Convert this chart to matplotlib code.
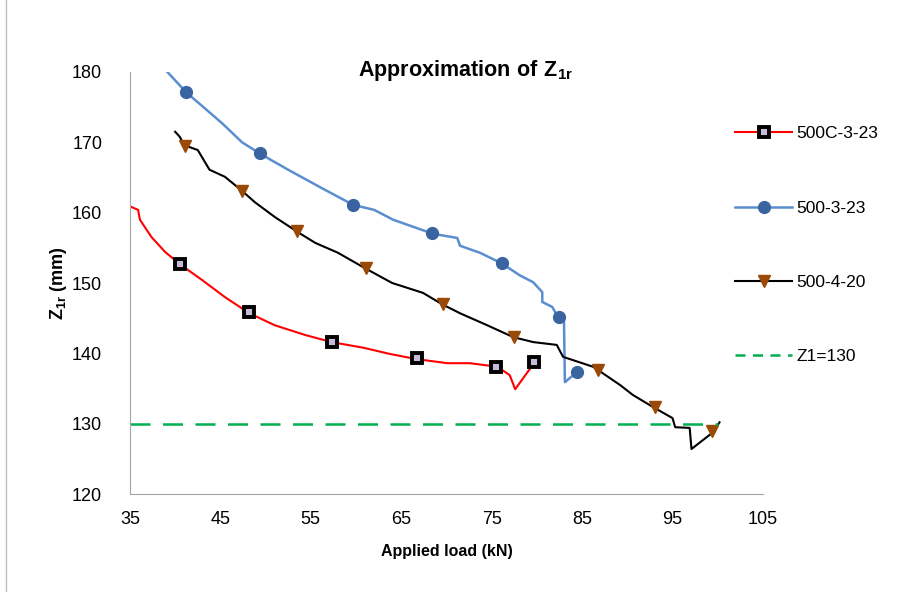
import matplotlib as mpl
import matplotlib.pyplot as plt
from matplotlib.lines import Line2D
mpl.use('Agg')

plt.rcParams['font.family'] = ['Liberation Sans', 'DejaVu Sans']
plt.rcParams['mathtext.fontset'] = 'custom'
plt.rcParams['mathtext.rm'] = 'Liberation Sans'
plt.rcParams['mathtext.bf'] = 'Liberation Sans:bold'

# 500C-3-23 (red line, square markers)
load_c323 = [35.0, 35.9, 36.1, 37.4, 38.9, 40.5, 43.0, 45.5, 48.2, 51.0, 54.4, 57.3,
             60.8, 63.8, 66.6, 70.1, 72.6, 75.6, 76.2, 77.0, 77.6, 79.8]
z_c323 = [160.9, 160.4, 159.0, 156.5, 154.4, 152.7, 150.4, 148.0, 145.7, 144.0, 142.6, 141.6,
          140.8, 139.9, 139.2, 138.6, 138.6, 138.1, 137.6, 136.9, 134.9, 138.8]
mk_load_c323 = [40.5, 48.2, 57.3, 66.7, 75.5, 79.7]
mk_z_c323 = [152.7, 145.9, 141.6, 139.3, 138.1, 138.8]

# 500-3-23 (blue line, circle markers)
load_323 = [39.0, 41.3, 42.5, 45.2, 47.4, 49.5, 52.5, 56.2, 59.7, 62.0, 64.1, 68.5,
            71.2, 71.5, 73.7, 76.1, 78.1, 79.6, 80.6, 80.6, 81.7, 82.4, 83.0, 83.1, 84.4]
z_323 = [180.2, 177.0, 175.7, 172.7, 170.0, 168.3, 166.1, 163.5, 161.1, 160.4, 159.0, 157.0,
         156.4, 155.3, 154.3, 152.8, 151.1, 150.1, 148.7, 147.3, 146.6, 145.0, 144.5, 135.9, 137.3]
mk_load_323 = [41.2, 49.4, 59.7, 68.4, 76.1, 82.4, 84.4]
mk_z_323 = [177.2, 168.5, 161.1, 157.1, 152.8, 145.2, 137.3]

# 500-4-20 (black line, triangle markers)
load_420 = [40.0, 40.5, 41.0, 42.5, 43.8, 45.5, 47.4, 48.8, 51.0, 53.6, 55.5, 58.0,
            61.0, 64.0, 67.4, 69.5, 71.5, 74.5, 77.4, 79.6, 82.2, 82.9, 86.2, 86.8,
            89.2, 90.6, 92.8, 95.0, 95.3, 96.9, 97.1, 99.5, 100.2]
z_420 = [171.5, 170.8, 169.6, 168.9, 166.1, 165.1, 163.1, 161.5, 159.4, 157.2, 155.7, 154.3,
         152.1, 150.0, 148.6, 147.0, 145.7, 144.0, 142.3, 141.6, 141.2, 139.5, 138.1, 137.6,
         135.5, 134.1, 132.4, 130.8, 129.5, 129.4, 126.4, 128.8, 130.2]
mk_load_420 = [41.1, 47.4, 53.5, 61.1, 69.6, 77.5, 86.8, 93.1, 99.4]
mk_z_420 = [169.5, 163.1, 157.4, 152.1, 147.0, 142.3, 137.6, 132.4, 129.0]

z1_load = [35, 100]
z1_value = [130, 130]

x_ticks = [35, 45, 55, 65, 75, 85, 95, 105]
y_ticks = [120, 130, 140, 150, 160, 170, 180]

red = '#FF0000'
blue_line = '#5B8ED0'
blue_mk = '#3A64A0'
brown = '#9A4A06'
green = '#00B050'

fig = plt.figure(figsize=(9.05, 5.92), dpi=100)
ax = fig.add_axes([0.1436, 0.1655, 0.6994, 0.7129])

ax.plot(load_c323, z_c323, color=red, lw=1.5)
ax.plot(mk_load_c323, mk_z_c323, ls='none', marker='s', ms=7.5, mfc='#c9b9db', mec='black', mew=2.8)
ax.plot(load_323, z_323, color=blue_line, lw=1.8)
ax.plot(mk_load_323, mk_z_323, ls='none', marker='o', ms=8.5, mfc=blue_mk, mec=blue_mk)
ax.plot(load_420, z_420, color='black', lw=1.5)
ax.plot(mk_load_420, mk_z_420, ls='none', marker='v', ms=9, mfc=brown, mec=brown)
ax.plot(z1_load, z1_value, color=green, lw=1.8, dashes=(8, 5))

ax.set_xlim(35, 105)
ax.set_ylim(120, 180)
ax.set_xticks(x_ticks)
ax.set_yticks(y_ticks)
ax.tick_params(length=0, labelsize=13)
ax.tick_params(axis='y', pad=20)
ax.tick_params(axis='x', pad=12)
for s in ['top', 'right']:
    ax.spines[s].set_visible(False)
for s in ['left', 'bottom']:
    ax.spines[s].set_color('#A6A6A6')

ax.set_xlabel('Applied load (kN)', fontsize=11.5, fontweight='bold', labelpad=12)
ax.set_ylabel(r'$\mathbf{Z_{1r}}$ $\mathbf{(mm)}$', fontsize=13, labelpad=2)
fig.text(0.515, 0.872, r'$\mathbf{Approximation\ of\ Z_{1r}}$', fontsize=15.5, ha='center')

handles = [
    Line2D([], [], color=red, lw=1.5, marker='s', ms=7.5, mfc='#c9b9db', mec='black', mew=2.8),
    Line2D([], [], color=blue_line, lw=1.8, marker='o', ms=8.5, mfc=blue_mk, mec=blue_mk),
    Line2D([], [], color='black', lw=1.5, marker='v', ms=9, mfc=brown, mec=brown),
    Line2D([], [], color=green, lw=1.8, dashes=(4, 3)),
]
labels = ['500C-3-23', '500-3-23', '500-4-20', 'Z1=130']
fig.legend(handles, labels, loc='upper left', bbox_to_anchor=(0.795, 0.813), frameon=False,
           fontsize=12.5, handlelength=3.3, handletextpad=0.25, labelspacing=3.4)

fig.add_artist(Line2D([0.007, 0.007], [0, 1], color='#C0C0C0', lw=1))

plt.savefig('out.png')
